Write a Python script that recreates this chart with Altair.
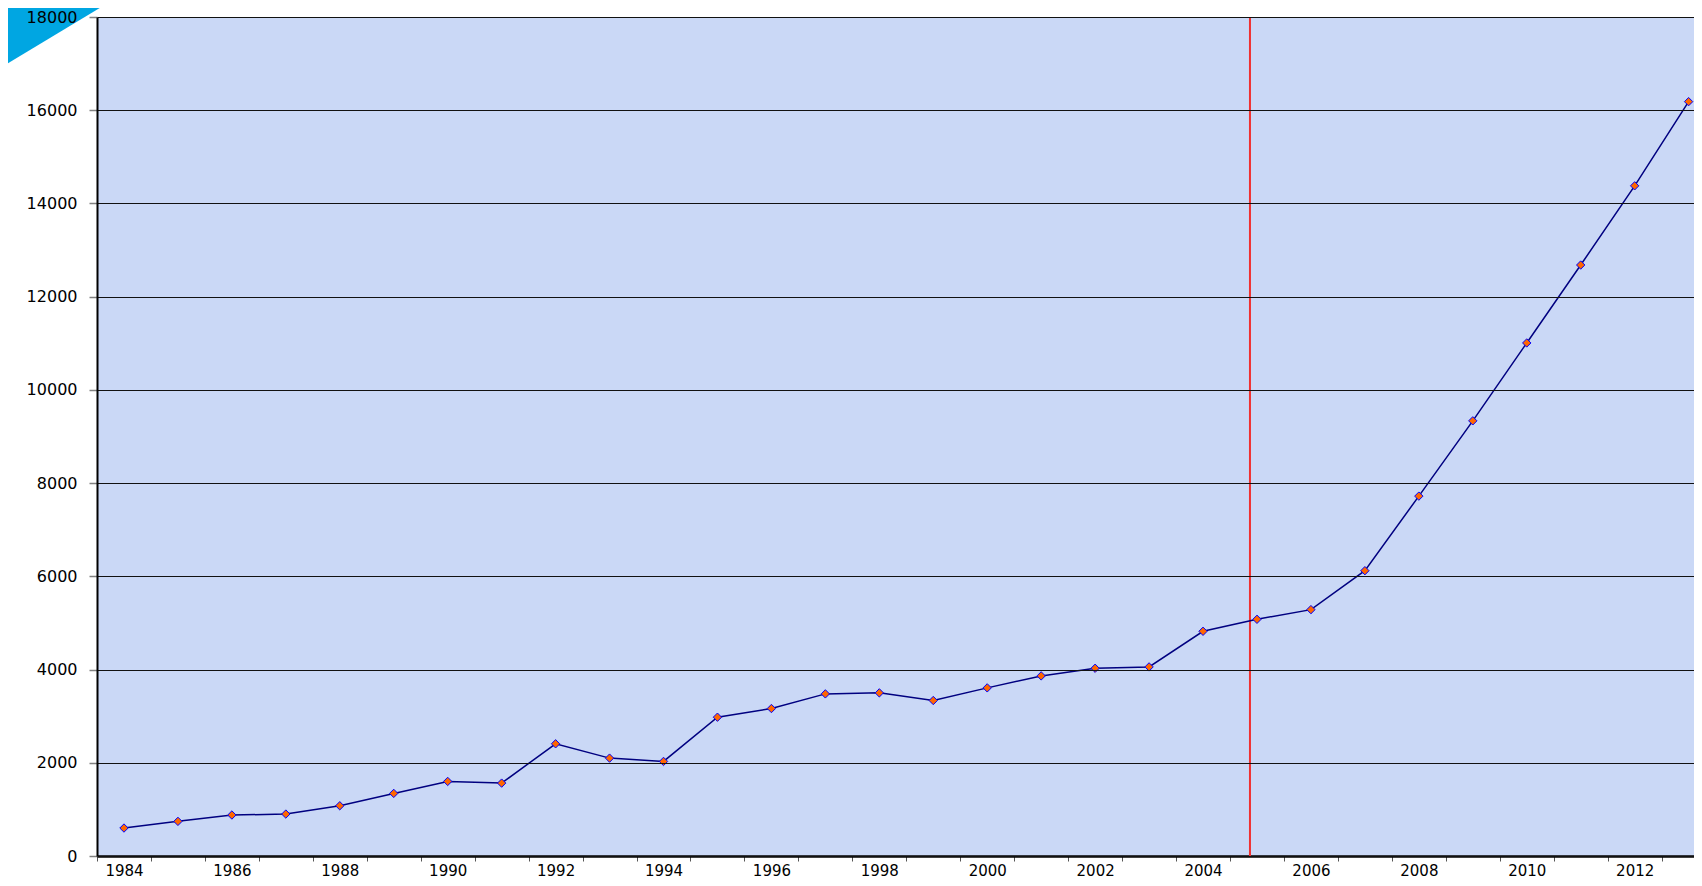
import altair as alt
import pandas as pd

# ---- data ----
years = list(range(1984, 2014))
values = [600, 743, 879, 900, 1078, 1343, 1600, 1564, 2407, 2100,
          2029, 2978, 3164, 3478, 3500, 3336, 3607, 3864, 4028, 4057,
          4821, 5078, 5286, 6121, 7721, 9336, 11007, 12679, 14378, 16184]
marker_year = [2004.87]
y_ticks = list(range(0, 18001, 2000))
x_bounds = [y + 0.5 for y in range(1983, 2013)]  # category boundaries

df = pd.DataFrame({"year": years, "value": values})
df_marker = pd.DataFrame({"year": marker_year})
df_deco = pd.DataFrame({"k": [0]})

FONT = "DejaVu Sans"

x_enc = alt.X(
    "year:Q",
    scale=alt.Scale(domain=[1983.5, 2013.1], nice=False, zero=False),
    axis=alt.Axis(
        values=x_bounds, title=None, grid=False,
        labelExpr="datum.value % 2 == 1.5 ? toString(datum.value + 0.5) : ''",
        labelOffset=27, labelOverlap=False, labelFlush=False, labelBound=False,
        labelFont=FONT, labelFontSize=15, labelColor="#000", labelPadding=2,
        tickSize=5, tickColor="#555", tickWidth=1,
        domainColor="#000", domainWidth=2.5,
    ),
)
y_enc = alt.Y(
    "value:Q",
    scale=alt.Scale(domain=[0, 18000], nice=False),
    axis=alt.Axis(
        values=y_ticks, title=None, grid=True, format="d",
        gridColor="#111", gridWidth=1, gridOpacity=1,
        labelFont=FONT, labelFontSize=16, labelColor="#000", labelPadding=12,
        tickSize=8, tickColor="#808080", tickWidth=1.5,
        domainColor="#000", domainWidth=2, zindex=1,
    ),
)

# decorative blue band in the top-left corner (pixel positions)
deco = alt.Chart(df_deco).mark_rule(color="#00a6e2", strokeWidth=60, strokeCap="butt").encode(
    x=alt.value(-142), y=alt.value(43), x2=alt.value(31), y2=alt.value(-61)
)

marker = alt.Chart(df_marker).mark_rule(color="#f03030", strokeWidth=2).encode(x=x_enc)

line = alt.Chart(df).mark_line(color="#000080", strokeWidth=1.5).encode(x=x_enc, y=y_enc)

points = alt.Chart(df).mark_point(
    shape="diamond", filled=True, fill="#ff6600", stroke="#0000ff",
    strokeWidth=1, size=70, opacity=1
).encode(x=x_enc, y=y_enc)

chart = alt.layer(deco, marker, line, points).properties(
    width=1597, height=839,
    autosize=alt.AutoSizeParams(type="none"),
    padding={"left": 89, "top": 9, "right": 0, "bottom": 22},
    background="white",
).configure_view(fill="#cad8f6", stroke=None)

chart.save("out.html", embed_options={"renderer": "svg", "actions": False})
